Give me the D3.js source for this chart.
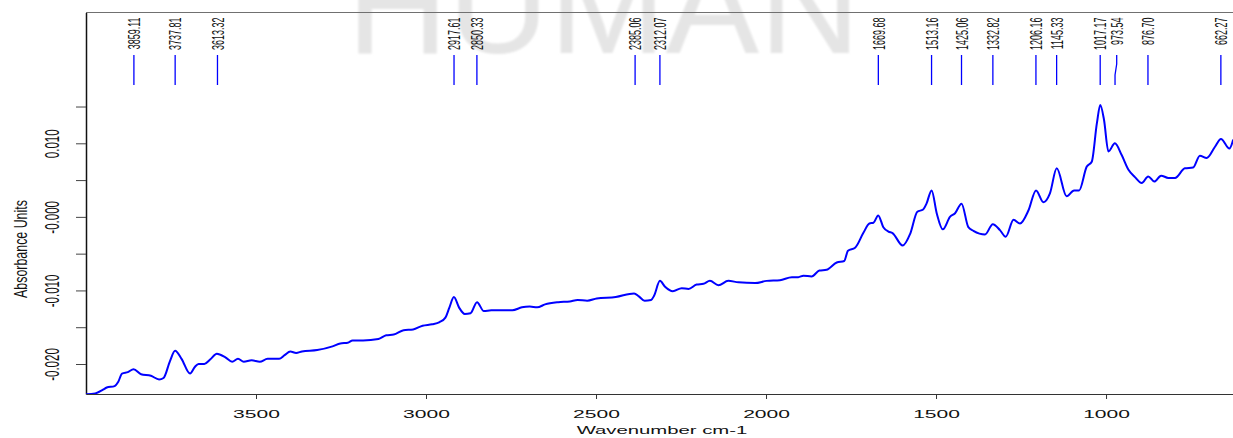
<!DOCTYPE html>
<html>
<head>
<meta charset="utf-8">
<script src="https://cdn.jsdelivr.net/npm/d3@7"></script>
<style>
  html, body { margin: 0; padding: 0; background: #fff; overflow: hidden; }
  svg { display: block; font-family: "Liberation Sans", Arial, sans-serif; }
</style>
</head>
<body>
<svg id="chart" width="1233" height="438"></svg>
<script>
// IR absorbance spectrum (wavenumber in cm-1, absorbance units)
const wavenumbers = [
  4000, 3973, 3950, 3939, 3916, 3905, 3894, 3877, 3860, 3838, 3809, 3785, 3772, 3753, 3738,
  3719, 3694, 3680, 3669, 3652, 3635, 3615, 3590, 3570, 3553, 3536, 3513, 3489, 3466, 3432,
  3416, 3399, 3382, 3365, 3320, 3275, 3252, 3230, 3216, 3185, 3140, 3117, 3095, 3066, 3038,
  3010, 2982, 2960, 2943, 2931, 2918, 2903, 2886, 2869, 2850, 2830, 2808, 2746, 2718, 2695,
  2673, 2650, 2611, 2577, 2554, 2526, 2498, 2442, 2388, 2374, 2357, 2338, 2329, 2312, 2297,
  2274, 2248, 2228, 2204, 2184, 2165, 2140, 2111, 2081, 2032, 1998, 1959, 1924, 1905, 1890,
  1866, 1843, 1822, 1792, 1770, 1759, 1738, 1714, 1696, 1684, 1670, 1655, 1640, 1628, 1598,
  1576, 1555, 1538, 1528, 1513, 1498, 1480, 1459, 1444, 1425, 1405, 1390, 1356, 1333, 1312,
  1295, 1272, 1253, 1228, 1206, 1184, 1165, 1145, 1116, 1094, 1079, 1057, 1042, 1027, 1017,
  1006, 993, 974, 954, 934, 915, 895, 876, 858, 838, 817, 797, 768, 744, 724,
  704, 680, 662, 637, 626
];
const absorbance = [
  -0.0241, -0.0240, -0.0235, -0.0232, -0.0230, -0.0224, -0.0213, -0.0211, -0.0207, -0.0214, -0.0216, -0.0221, -0.0219, -0.0196, -0.0182,
  -0.0193, -0.0213, -0.0204, -0.0200, -0.0200, -0.0194, -0.0186, -0.0191, -0.0197, -0.0193, -0.0197, -0.0195, -0.0197, -0.0193, -0.0193,
  -0.0188, -0.0183, -0.0185, -0.0183, -0.0181, -0.0176, -0.0172, -0.0171, -0.0168, -0.0168, -0.0166, -0.0161, -0.0160, -0.0154, -0.0153,
  -0.0148, -0.0146, -0.0143, -0.0137, -0.0123, -0.0109, -0.0123, -0.0132, -0.0131, -0.0116, -0.0128, -0.0127, -0.0127, -0.0123, -0.0122,
  -0.0123, -0.0119, -0.0116, -0.0115, -0.0113, -0.0114, -0.0111, -0.0109, -0.0104, -0.0108, -0.0114, -0.0113, -0.0107, -0.0087, -0.0095,
  -0.0101, -0.0097, -0.0098, -0.0092, -0.0091, -0.0087, -0.0093, -0.0087, -0.0089, -0.0090, -0.0087, -0.0086, -0.0082, -0.0082, -0.0080,
  -0.0081, -0.0073, -0.0072, -0.0062, -0.0060, -0.0046, -0.0042, -0.0022, -0.0009, -0.0008, 0.0002, -0.0014, -0.0020, -0.0022, -0.0039,
  -0.0023, 0.0007, 0.0010, 0.0018, 0.0036, 0.0005, -0.0017, 0.0000, 0.0005, 0.0018, -0.0014, -0.0019, -0.0024, -0.0010, -0.0018,
  -0.0027, -0.0004, -0.0009, 0.0009, 0.0036, 0.0020, 0.0032, 0.0066, 0.0028, 0.0036, 0.0036, 0.0068, 0.0075, 0.0127, 0.0152,
  0.0132, 0.0089, 0.0100, 0.0084, 0.0064, 0.0054, 0.0046, 0.0055, 0.0048, 0.0056, 0.0053, 0.0053, 0.0066, 0.0067, 0.0083,
  0.0080, 0.0095, 0.0106, 0.0093, 0.0105
];

// Picked peaks
const peakPositions = [3859.11, 3737.81, 3613.32, 2917.61, 2850.33, 2385.06, 2312.07, 1669.68,
  1513.16, 1425.06, 1332.82, 1206.16, 1145.33, 1017.17, 973.54, 876.70, 662.27];

const xTickValues = [3500, 3000, 2500, 2000, 1500, 1000];
const yTickValues = [0.015, 0.010, 0.005, 0.000, -0.005, -0.010, -0.015, -0.020];
const yTickLabels = ["", "0.010", "", "-0.000", "", "-0.010", "", "-0.020"];
const xTitle = "Wavenumber cm-1";
const yTitle = "Absorbance Units";
const watermark = "HUMAN";

const svg = d3.select("#chart");
const W = 1233, H = 438;
const plotLeft = 86, plotTop = 12.5, plotBottom = 394;

svg.append("rect").attr("width", W).attr("height", H).attr("fill", "#fff");

const defs = svg.append("defs");
defs.append("filter").attr("id", "soft")
  .append("feGaussianBlur").attr("stdDeviation", 1.2);
defs.append("clipPath").attr("id", "plotClip")
  .append("rect").attr("x", plotLeft).attr("y", plotTop)
  .attr("width", W - plotLeft).attr("height", plotBottom - plotTop);

// Faint background watermark
svg.append("text")
  .attr("x", 347).attr("y", 53)
  .attr("font-size", 140)
  .attr("fill", "#e5e5e5")
  .attr("filter", "url(#soft)")
  .text(watermark);

// Scales
const x = d3.scaleLinear().domain([4000, 626]).range([plotLeft, 1233.2]);
const yRef = d3.scaleLinear().domain([-0.02, 0.01]).range([364, 143.3]);
const y = d3.scaleLinear()
  .domain([yRef.invert(plotBottom), yRef.invert(plotTop)])
  .range([plotBottom, plotTop]);

// Frame top line
svg.append("line")
  .attr("x1", plotLeft).attr("x2", W).attr("y1", plotTop).attr("y2", plotTop)
  .attr("stroke", "#707070").attr("stroke-width", 1.2);

// X axis
const gx = svg.append("g")
  .attr("transform", `translate(0,${plotBottom})`)
  .call(d3.axisBottom(x).tickValues(xTickValues).tickSize(5).tickSizeOuter(0).tickFormat(d3.format("d")));
gx.select(".domain").attr("stroke", "#333").attr("stroke-width", 1.2);
gx.selectAll(".tick line").attr("stroke", "#333");
gx.selectAll(".tick text")
  .attr("y", 24.3).attr("dy", null)
  .attr("font-size", 10.8)
  .attr("fill", "#111")
  .attr("font-family", "Liberation Sans, Arial, sans-serif")
  .attr("transform", "scale(1.95,1)");

// Y axis
const gy = svg.append("g")
  .attr("transform", `translate(${plotLeft},0)`)
  .call(d3.axisLeft(y).tickValues(yTickValues).tickSize(10).tickSizeOuter(0)
    .tickFormat((d, i) => yTickLabels[i]));
gy.select(".domain").attr("stroke", "#111").attr("stroke-width", 1.5);
gy.selectAll(".tick line").attr("stroke", "#444");
gy.selectAll(".tick text")
  .attr("x", 0).attr("y", 0).attr("dy", null)
  .attr("text-anchor", "middle")
  .attr("font-size", 11.5)
  .attr("fill", "#111")
  .attr("font-family", "Liberation Sans, Arial, sans-serif")
  .attr("transform", "translate(-26.7,0) scale(1.75,1) rotate(-90)");

// Axis titles
svg.append("text")
  .attr("text-anchor", "middle")
  .attr("font-size", 10.8)
  .attr("fill", "#111")
  .attr("transform", "translate(662,434.3) scale(1.88,1)")
  .text(xTitle);

svg.append("text")
  .attr("text-anchor", "middle")
  .attr("font-size", 12.4)
  .attr("fill", "#111")
  .attr("transform", "translate(26.7,249) scale(1.5,1) rotate(-90)")
  .text(yTitle);

// Spectrum
const points = wavenumbers.map((w, i) => [w, absorbance[i]]);
const line = d3.line()
  .x(d => x(d[0]))
  .y(d => y(d[1]))
  .curve(d3.curveMonotoneX);

svg.append("path")
  .datum(points)
  .attr("clip-path", "url(#plotClip)")
  .attr("fill", "none")
  .attr("stroke", "#0000ff")
  .attr("stroke-width", 2)
  .attr("stroke-linejoin", "round")
  .attr("d", line);

// Peak markers with labels, nudged apart where they crowd
const minGap = 16.5;
let prevX = -Infinity;
const peaks = peakPositions.map(p => {
  const px = x(p);
  const lx = Math.max(px, prevX + minGap);
  prevX = lx;
  return { p, px, lx };
});

const gp = svg.append("g");
gp.selectAll("path")
  .data(peaks)
  .join("path")
  .attr("fill", "none")
  .attr("stroke", "#0000ff")
  .attr("stroke-width", 1.3)
  .attr("d", d => d.lx === d.px
    ? `M${d.px},55V85`
    : `M${d.lx},55V64L${d.px},75V85`);

gp.selectAll("text")
  .data(peaks)
  .join("text")
  .attr("text-anchor", "end")
  .attr("font-size", 9)
  .attr("fill", "#111")
  .attr("transform", d => `translate(${d.lx + 6.3},17.5) scale(1.85,1) rotate(-90)`)
  .text(d => d.p.toFixed(2));
</script>
</body>
</html>
